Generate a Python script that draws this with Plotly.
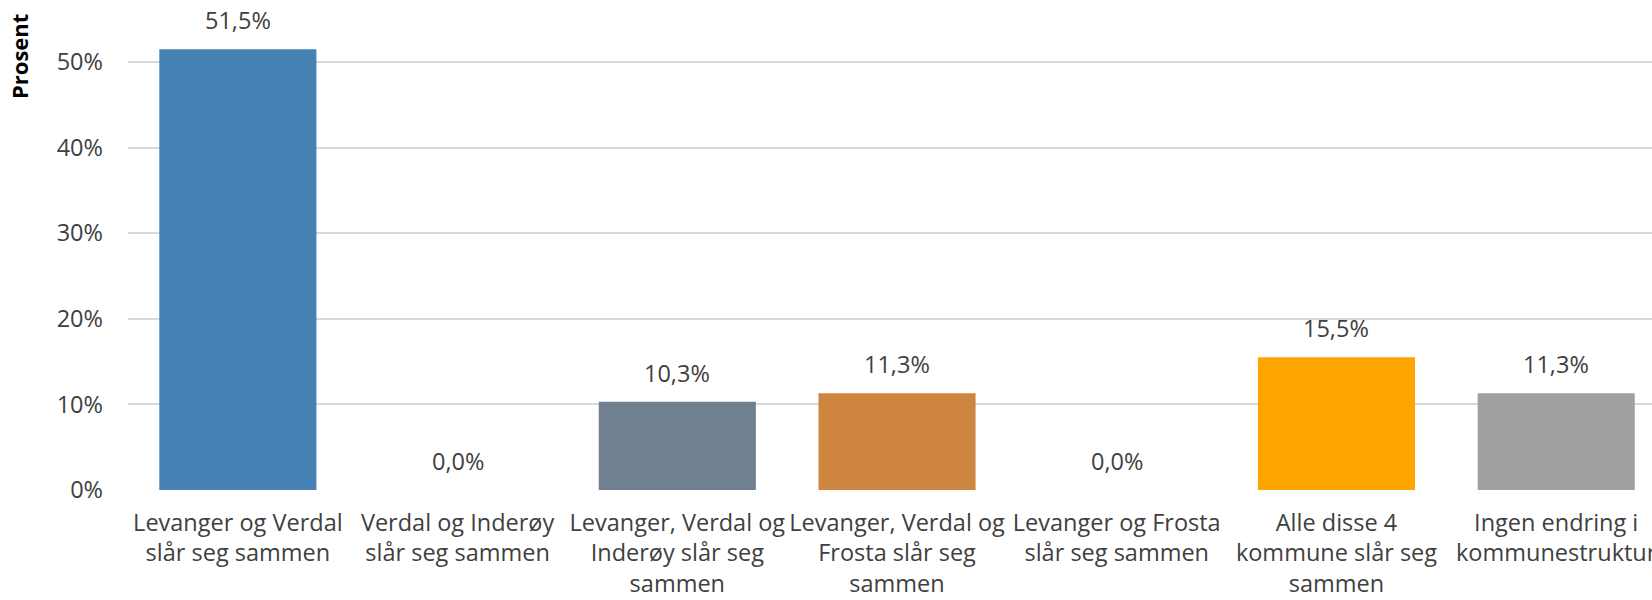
import plotly.graph_objects as go

categories = [
    "Levanger og Verdal<br>slår seg sammen",
    "Verdal og Inderøy<br>slår seg sammen",
    "Levanger, Verdal og<br>Inderøy slår seg<br>sammen",
    "Levanger, Verdal og<br>Frosta slår seg<br>sammen",
    "Levanger og Frosta<br>slår seg sammen",
    "Alle disse 4<br>kommune slår seg<br>sammen",
    "Ingen endring i<br>kommunestruktur",
]
values = [0.515, 0.0, 0.103, 0.113, 0.0, 0.155, 0.113]
value_labels = ["51,5%", "0,0%", "10,3%", "11,3%", "0,0%", "15,5%", "11,3%"]
colors = ["#4682B4", "#4682B4", "#708090", "#CD853F", "#4682B4", "#FFA500", "#A0A0A0"]
y_ticks = [0, 0.1, 0.2, 0.3, 0.4, 0.5]
y_tick_labels = ["0%", "10%", "20%", "30%", "40%", "50%"]

font_family = "Open Sans, sans-serif"
text_color = "#404040"
fs = 23.5

xs = list(range(len(categories)))

fig = go.Figure(
    go.Bar(
        x=xs,
        y=values,
        marker=dict(color=colors, line=dict(width=0)),
        width=0.715,
        hoverinfo="skip",
    )
)

annotations = [
    dict(
        x=x, y=v, xref="x", yref="y",
        text=t, showarrow=False,
        xanchor="center", yanchor="bottom", yshift=11,
        font=dict(family=font_family, size=fs, color=text_color),
    )
    for x, v, t in zip(xs, values, value_labels)
]
annotations.append(
    dict(
        text="<b>Prosent</b>",
        xref="paper", yref="paper",
        x=-0.0715, y=0.8837,
        xanchor="center", yanchor="middle",
        textangle=-90, showarrow=False,
        font=dict(family=font_family, size=22, color="#000000"),
    )
)

fig.update_layout(
    width=1652,
    height=600,
    margin=dict(l=128, r=0, t=0, b=110, autoexpand=False),
    paper_bgcolor="white",
    plot_bgcolor="white",
    showlegend=False,
    font=dict(family=font_family, size=fs, color=text_color),
    xaxis=dict(
        tickmode="array",
        tickvals=xs,
        ticktext=categories,
        tickangle=0,
        automargin=False,
        ticklabeloverflow="allow",
        range=[-0.5, 6.436],
        showgrid=False,
        zeroline=False,
        showline=False,
        ticks="",
        ticklabelstandoff=16,
        tickfont=dict(family=font_family, size=fs, color=text_color),
    ),
    yaxis=dict(
        range=[0, 0.5724],
        tickmode="array",
        tickvals=y_ticks,
        ticktext=y_tick_labels,
        automargin=False,
        showgrid=True,
        gridcolor="#D9D9D9",
        gridwidth=2,
        zeroline=False,
        showline=False,
        ticks="",
        ticklabelstandoff=24,
        tickfont=dict(family=font_family, size=fs, color=text_color),
    ),
    annotations=annotations,
)

fig.write_html(
    "out.html",
    config={"displayModeBar": False},
    post_script="document.body.style.margin='0px';document.body.style.overflow='hidden';",
)
